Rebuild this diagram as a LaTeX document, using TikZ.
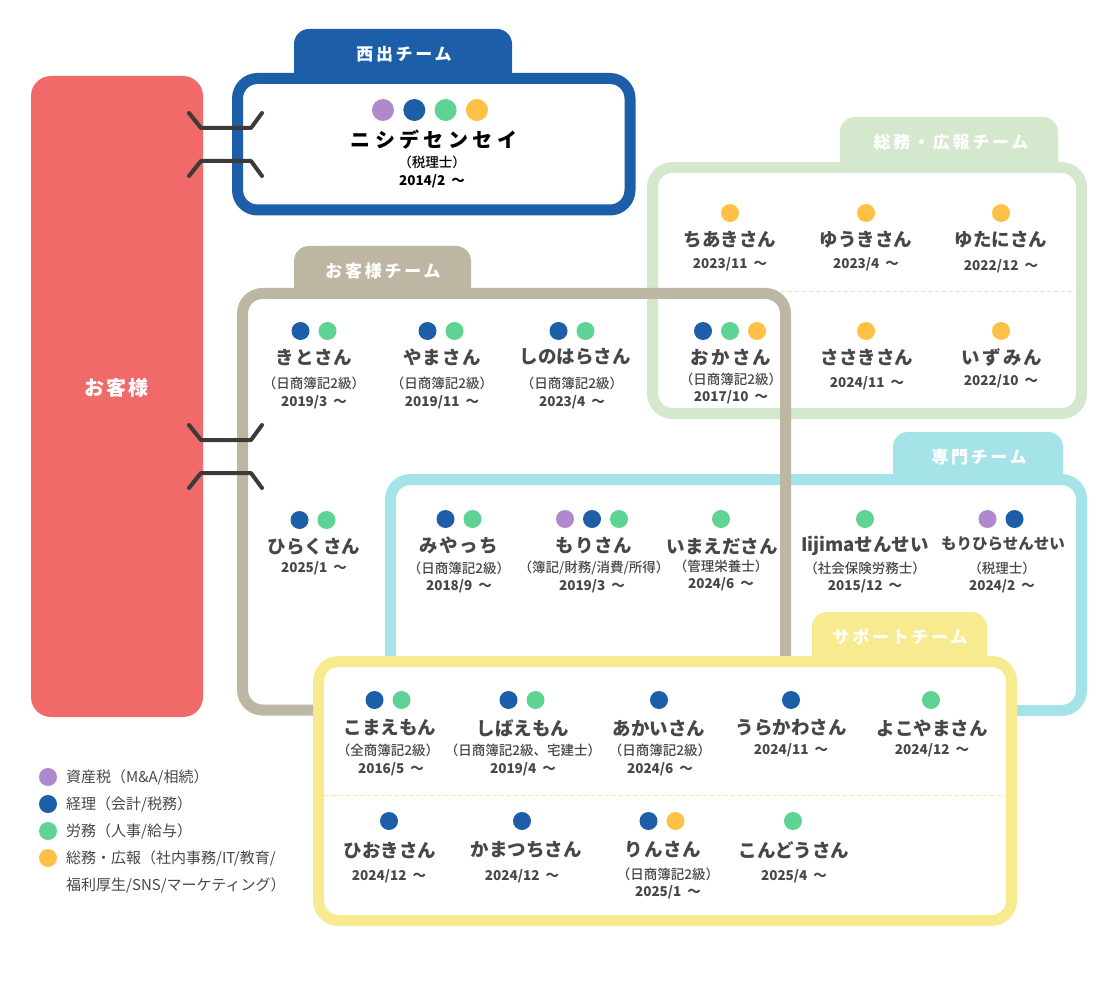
\documentclass[tikz,border=0pt]{standalone}
\usepackage{fontspec}
\setmainfont{Noto Sans CJK JP}
\newfontfamily\medfont{Noto Sans CJK JP Medium}
\definecolor{cred}{HTML}{F06A6A}
\definecolor{cblue}{HTML}{1C5EA8}
\definecolor{cpurple}{HTML}{B088CC}
\definecolor{cgreen}{HTML}{5FD394}
\definecolor{cyellow}{HTML}{FFC145}
\definecolor{ctan}{HTML}{BDB6A3}
\definecolor{clgreen}{HTML}{D4E8CD}
\definecolor{ccyan}{HTML}{A4E4E8}
\definecolor{clyellow}{HTML}{F7EA8F}
\definecolor{ctxt}{HTML}{474747}
\definecolor{cconn}{HTML}{3D3A39}
\newcommand\mdots[5]{%
  \foreach \c [count=\i] in {#5} \node[dot, fill=\c] (#1d\i) at ({#2+(\i-(#4+1)/2)*27}, #3) {};}
\newcommand\since[1]{#1\hspace{0.45em}～}
\begin{document}
\begin{tikzpicture}[x=1pt,y=-1pt,
  frame/.style={line width=11pt, rounded corners=20pt},
  dot/.style={circle, inner sep=0pt, minimum size=18pt, draw=none},
  nm/.style={font=\fontsize{18.5}{18}\selectfont\bfseries, text=ctxt, inner sep=0pt},
  sub/.style={font=\fontsize{13.5}{14}\medfont, text=ctxt, inner sep=0pt},
  dt/.style={font=\fontsize{13.5}{14}\selectfont\bfseries, text=ctxt, inner sep=0pt},
  tablabel/.style={font=\fontsize{17}{17}\selectfont\bfseries\addfontfeatures{LetterSpace=16}, text=white, inner sep=0pt},
  legtext/.style={font=\fontsize{15}{15}\selectfont, text=ctxt, inner sep=0pt, anchor=west},
  conn/.style={draw=cconn, line width=4pt, line cap=round, line join=round},
  divider/.style={line width=1pt, dash pattern=on 4pt off 3pt}]
\useasboundingbox (0,0) rectangle (1110,981);
% customer block
\fill[cred, rounded corners=20pt] (31,76) rectangle (203,717);
\node[font=\fontsize{20}{20}\selectfont\bfseries\addfontfeatures{LetterSpace=10}, text=white] (cust) at (116,388) {お客様};
% general affairs team (light green)
\fill[clgreen] (840,167) {[rounded corners=15pt] -- (840,117) -- (1058,117)} -- (1058,167) -- cycle;
\draw[frame, clgreen] (652.5,167.5) rectangle (1081.5,413.5);
\draw[divider, clgreen] (662,292) -- (1072,292);
% specialist team (cyan)
\fill[ccyan] (893,479) {[rounded corners=15pt] -- (893,432) -- (1063,432)} -- (1063,479) -- cycle;
\draw[frame, ccyan] (390.5,479.5) rectangle (1081.5,710.5);
% customer team (tan)
\fill[ctan] (294,293) {[rounded corners=15pt] -- (294,246) -- (471,246)} -- (471,293) -- cycle;
\draw[frame, ctan] (242.5,293.5) rectangle (785.5,710);
% support team (yellow)
\fill[clyellow] (812,661) {[rounded corners=15pt] -- (812,612) -- (987,612)} -- (987,661) -- cycle;
\draw[frame, clyellow, fill=white] (318.5,661.5) rectangle (1011.5,920.5);
\draw[divider, clyellow] (325,795) -- (1005,795);
% nishide team (blue)
\fill[cblue] (294,78) {[rounded corners=15pt] -- (294,29) -- (512,29)} -- (512,78) -- cycle;
\draw[frame, cblue] (237.5,78.5) rectangle (630,210);
% tab labels
\node[tablabel] (t1) at (404,54) {西出チーム};
\node[tablabel] (t2) at (951,142) {総務・広報チーム};
\node[tablabel] (t3) at (383,271) {お客様チーム};
\node[tablabel] (t4) at (979,457) {専門チーム};
\node[tablabel] (t5) at (900,637) {サポートチーム};
% connectors
\coordinate (a1) at (189,113); \coordinate (a2) at (201,128); \coordinate (a3) at (251,128); \coordinate (a4) at (262,113);
\coordinate (b1) at (189,176); \coordinate (b2) at (201,161); \coordinate (b3) at (251,161); \coordinate (b4) at (262,176);
\coordinate (c1) at (189,425); \coordinate (c2) at (201,440); \coordinate (c3) at (251,440); \coordinate (c4) at (262,425);
\coordinate (e1) at (189,488); \coordinate (e2) at (201,473); \coordinate (e3) at (251,473); \coordinate (e4) at (262,488);
\draw[conn] (a1) -- (a2) -- (a3) -- (a4);
\draw[conn] (b1) -- (b2) -- (b3) -- (b4);
\draw[conn] (c1) -- (c2) -- (c3) -- (c4);
\draw[conn] (e1) -- (e2) -- (e3) -- (e4);
% Nishide
\foreach \c [count=\i] in {cpurple,cblue,cgreen,cyellow} \node[dot, minimum size=22pt, fill=\c] (nsd\i) at ({383+(\i-1)*31.3},110) {};
\node[font=\fontsize{20}{20}\selectfont\bfseries\addfontfeatures{LetterSpace=22}, text=black, inner sep=0pt] (nsn) at (434,140) {ニシデセンセイ};
\node[sub, text=black] (nss) at (432,162) {（税理士）};
\node[dt, text=black] (nsdt) at (432,181) {\since{2014/2}};
% general affairs members
\mdots{chi}{730}{213}{1}{cyellow}
\node[nm] (chin) at (730,240) {ちあきさん};
\node[dt] (chidt) at (730,264) {\since{2023/11}};
\mdots{yuk}{866}{213}{1}{cyellow}
\node[nm] (yukn) at (866,240) {ゆうきさん};
\node[dt] (yukdt) at (866,264) {\since{2023/4}};
\mdots{yut}{1001}{213}{1}{cyellow}
\node[nm] (yutn) at (1001,240) {ゆたにさん};
\node[dt] (yutdt) at (1001,266) {\since{2022/12}};
\mdots{oka}{730}{331}{3}{cblue,cgreen,cyellow}
\node[nm, font=\fontsize{18.5}{18}\selectfont\bfseries\addfontfeatures{LetterSpace=12}] (okan) at (731,357) {おかさん};
\node[sub] (okas) at (731,379) {（日商簿記2級）};
\node[dt] (okadt) at (731,397) {\since{2017/10}};
\mdots{sas}{866}{331}{1}{cyellow}
\node[nm] (sasn) at (867,357) {ささきさん};
\node[dt] (sasdt) at (867,383) {\since{2024/11}};
\mdots{izu}{1001}{331}{1}{cyellow}
\node[nm, font=\fontsize{18.5}{18}\selectfont\bfseries\addfontfeatures{LetterSpace=12}] (izun) at (1002,357) {いずみん};
\node[dt] (izudt) at (1001,381) {\since{2022/10}};
% customer team members
\mdots{kit}{314}{331}{2}{cblue,cgreen}
\node[nm, font=\fontsize{18.5}{18}\selectfont\bfseries\addfontfeatures{LetterSpace=5}] (kitn) at (314,357) {きとさん};
\node[sub] (kits) at (314,383) {（日商簿記2級）};
\node[dt] (kitdt) at (314,402) {\since{2019/3}};
\mdots{yam}{441}{331}{2}{cblue,cgreen}
\node[nm, font=\fontsize{18.5}{18}\selectfont\bfseries\addfontfeatures{LetterSpace=7}] (yamn) at (442,357) {やまさん};
\node[sub] (yams) at (442,383) {（日商簿記2級）};
\node[dt] (yamdt) at (442,402) {\since{2019/11}};
\mdots{shi}{572}{331}{2}{cblue,cgreen}
\node[nm] (shin) at (575,357) {しのはらさん};
\node[sub] (shis) at (572,383) {（日商簿記2級）};
\node[dt] (shidt) at (572,402) {\since{2023/4}};
\mdots{hir}{313}{520}{2}{cblue,cgreen}
\node[nm] (hirn) at (314,547) {ひらくさん};
\node[dt] (hirdt) at (314,568) {\since{2025/1}};
% specialist members
\mdots{miy}{459}{519}{2}{cblue,cgreen}
\node[nm, font=\fontsize{18.5}{18}\selectfont\bfseries\addfontfeatures{LetterSpace=9}] (miyn) at (459,546) {みやっち};
\node[sub] (miys) at (459,568) {（日商簿記2級）};
\node[dt] (miydt) at (459,586) {\since{2018/9}};
\mdots{mor}{592}{519}{3}{cpurple,cblue,cgreen}
\node[nm, font=\fontsize{18.5}{18}\selectfont\bfseries\addfontfeatures{LetterSpace=5}] (morn) at (594,546) {もりさん};
\node[sub] (mors) at (594,568) {（簿記/財務/消費/所得）};
\node[dt] (mordt) at (592,586) {\since{2019/3}};
\mdots{ima}{721}{519}{1}{cgreen}
\node[nm] (iman) at (722,546) {いまえださん};
\node[sub] (imas) at (721,566) {（管理栄養士）};
\node[dt] (imadt) at (721,584) {\since{2024/6}};
\mdots{iij}{865}{519}{1}{cgreen}
\node[nm] (iijn) at (865,546) {Iijimaせんせい};
\node[sub] (iijs) at (865,568) {（社会保険労務士）};
\node[dt] (iijdt) at (865,586) {\since{2015/12}};
\mdots{mrh}{1001}{519}{2}{cpurple,cblue}
\node[nm, font=\fontsize{15.5}{16}\selectfont\bfseries] (mrhn) at (1003,544) {もりひらせんせい};
\node[sub] (mrhs) at (1002,568) {（税理士）};
\node[dt] (mrhdt) at (1002,586) {\since{2024/2}};
% support members
\mdots{kom}{388}{700}{2}{cblue,cgreen}
\node[nm] (komn) at (390,728) {こまえもん};
\node[sub] (koms) at (388,750) {（全商簿記2級）};
\node[dt] (komdt) at (391,769) {\since{2016/5}};
\mdots{shb}{522}{700}{2}{cblue,cgreen}
\node[nm] (shbn) at (523,728) {しばえもん};
\node[sub] (shbs) at (523,750) {（日商簿記2級、宅建士）};
\node[dt] (shbdt) at (523,769) {\since{2019/4}};
\mdots{aka}{659}{700}{1}{cblue}
\node[nm] (akan) at (659,728) {あかいさん};
\node[sub] (akas) at (660,750) {（日商簿記2級）};
\node[dt] (akadt) at (660,769) {\since{2024/6}};
\mdots{ura}{791}{700}{1}{cblue}
\node[nm] (uran) at (791,728) {うらかわさん};
\node[dt] (uradt) at (791,750) {\since{2024/11}};
\mdots{yok}{931}{700}{1}{cgreen}
\node[nm] (yokn) at (932,728) {よこやまさん};
\node[dt] (yokdt) at (932,750) {\since{2024/12}};
\mdots{hio}{389}{821}{1}{cblue}
\node[nm] (hion) at (390,850) {ひおきさん};
\node[dt] (hiodt) at (389,876) {\since{2024/12}};
\mdots{kam}{522}{821}{1}{cblue}
\node[nm] (kamn) at (526,850) {かまつちさん};
\node[dt] (kamdt) at (522,876) {\since{2024/12}};
\mdots{rin}{662}{821}{2}{cblue,cyellow}
\node[nm, font=\fontsize{18.5}{18}\selectfont\bfseries\addfontfeatures{LetterSpace=5}] (rinn) at (663,850) {りんさん};
\node[sub] (rins) at (668,874) {（日商簿記2級）};
\node[dt] (rindt) at (668,892) {\since{2025/1}};
\mdots{kon}{793}{821}{1}{cgreen}
\node[nm] (konn) at (794,850) {こんどうさん};
\node[dt] (kondt) at (794,876) {\since{2025/4}};
% legend
\node[dot, fill=cpurple] (lg1) at (48,777) {};
\node[dot, fill=cblue] (lg2) at (48,804) {};
\node[dot, fill=cgreen] (lg3) at (48,831) {};
\node[dot, fill=cyellow] (lg4) at (48,858) {};
\node[legtext] (lt1) at (66,777) {資産税（M\&A/相続）};
\node[legtext] (lt2) at (66,804) {経理（会計/税務）};
\node[legtext] (lt3) at (66,831) {労務（人事/給与）};
\node[legtext] (lt4) at (66,858) {総務・広報（社内事務/IT/教育/};
\node[legtext] (lt5) at (66,885) {福利厚生/SNS/マーケティング）};
\end{tikzpicture}
\end{document}
